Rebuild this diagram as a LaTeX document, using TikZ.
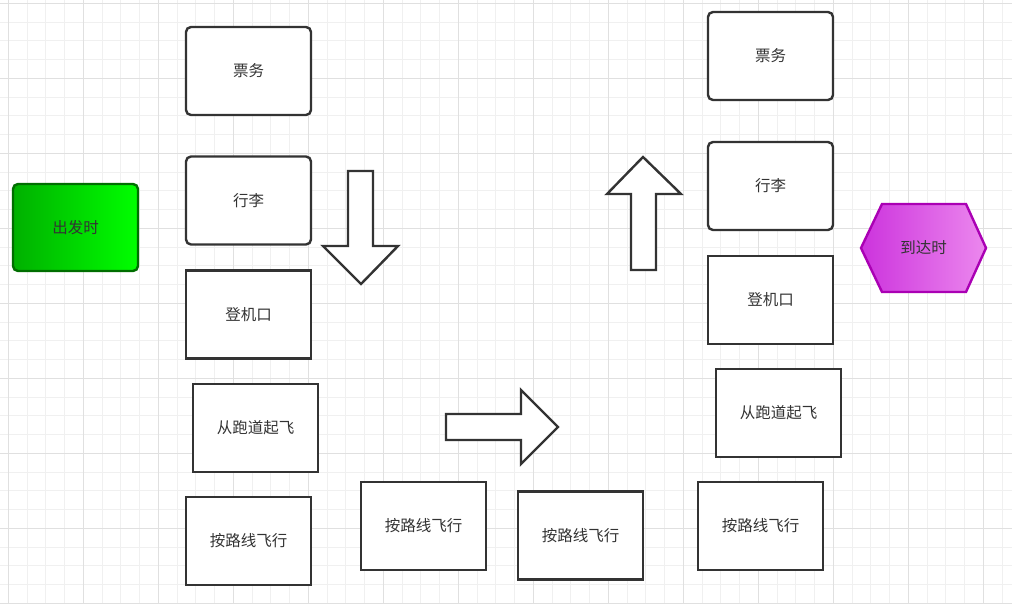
\documentclass[tikz,border=0pt]{standalone}
\usepackage{fontspec}
\newfontfamily\cjk{Noto Sans CJK SC}
\usetikzlibrary{shapes.geometric}
\definecolor{edge}{HTML}{333333}
\definecolor{txt}{HTML}{333333}
\definecolor{gminor}{HTML}{F0F0F0}
\definecolor{gmajor}{HTML}{E0E0E0}
\tikzset{
  box/.style={draw=edge, line width=2.4pt, fill=white, minimum width=125pt, minimum height=88pt, inner sep=0pt, font=\cjk\fontsize{15.5}{17}\selectfont, text=txt},
  rbox/.style={box, rounded corners=5pt},
  bigarrow/.style={draw=edge, line width=2.4pt, fill=white, line join=miter},
}
\begin{document}
\begin{tikzpicture}[x=1pt,y=-1pt]
\fill[white] (0,0) rectangle (1012,604);
\useasboundingbox (0,0) rectangle (1012,604);
% grid
\foreach \i in {0,...,54} {
  \draw[gminor, line width=1pt] ({8.3+18.75*(\i-1)},0) -- ({8.3+18.75*(\i-1)},604);
}
\foreach \i in {0,...,33} {
  \draw[gminor, line width=1pt] (0,{3.3+18.75*(\i)}) -- (1012,{3.3+18.75*(\i)});
}
\foreach \i in {0,...,13} {
  \draw[gmajor, line width=1pt] ({8.3+75*\i},0) -- ({8.3+75*\i},604);
}
\foreach \i in {0,...,8} {
  \draw[gmajor, line width=1pt] (0,{3.3+75*\i}) -- (1012,{3.3+75*\i});
}
% start
\node[draw={rgb,255:red,0;green,110;blue,0}, line width=2.4pt, rounded corners=5pt, minimum width=125pt, minimum height=87pt, left color={rgb,255:red,0;green,176;blue,0}, right color={rgb,255:red,0;green,255;blue,0}, font=\cjk\fontsize{15.5}{17}\selectfont, text=txt] (start) at (75.5,227.5) {出发时};
% end hexagon
\coordinate (hc) at (923.5,248);
\path[draw={rgb,255:red,170;green,0;blue,180}, line width=2.4pt, left color={rgb,255:red,204;green,51;blue,221}, right color={rgb,255:red,236;green,136;blue,238}]
  (861,248) -- (882,204) -- (966,204) -- (986,248) -- (966,292) -- (882,292) -- cycle;
\node[font=\cjk\fontsize{15.5}{17}\selectfont, text=txt] (end) at (hc) {到达时};
% left column
\node[rbox] (l1) at (248.5,71) {票务};
\node[rbox] (l2) at (248.5,200.5) {行李};
\node[box] (l3) at (248.5,314.5) {登机口};
\node[box] (l4) at (255.5,428) {从跑道起飞};
\node[box] (l5) at (248.5,541) {按路线飞行};
% middle
\node[box] (m1) at (423.5,526) {按路线飞行};
\node[box] (m2) at (580.5,535.5) {按路线飞行};
% right column
\node[box] (r5) at (760.5,526) {按路线飞行};
\node[box] (r4) at (778.5,413) {从跑道起飞};
\node[box] (r3) at (770.5,300) {登机口};
\node[rbox] (r2) at (770.5,186) {行李};
\node[rbox] (r1) at (770.5,56) {票务};
% big arrows
\draw[bigarrow] (348,171) -- (373,171) -- (373,246) -- (398,246) -- (361,284) -- (323,246) -- (348,246) -- cycle;
\draw[bigarrow] (631,270) -- (656,270) -- (656,194) -- (681,194) -- (643,157) -- (607,194) -- (631,194) -- cycle;
\draw[bigarrow] (446,414) -- (521,414) -- (521,390) -- (558,427) -- (521,464) -- (521,440) -- (446,440) -- cycle;
\end{tikzpicture}
\end{document}
